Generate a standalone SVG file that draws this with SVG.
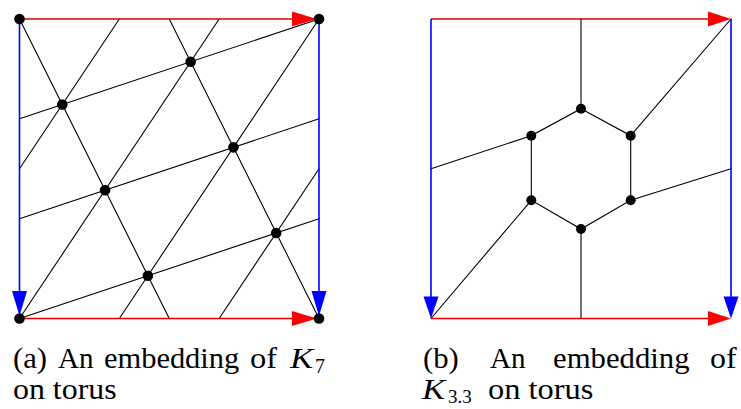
<svg xmlns="http://www.w3.org/2000/svg" width="741" height="409" viewBox="0 0 741 409">
<style>
.e{stroke:#000;stroke-width:1.1;fill:none;stroke-linecap:round}
.r{stroke:#e00000;stroke-width:1.6;fill:none}
.b{stroke:#0000ff;stroke-width:1.6;fill:none}
.ra{fill:#ff0000}
.ba{fill:#0000ff}
.d{fill:#000}
</style>
<rect width="741" height="409" fill="#fff"/>
<g id="panel-a">
<g id="edges-a">
<line class="e" x1="19.5" y1="118.83" x2="319" y2="19"/>
<line class="e" x1="19.5" y1="218.67" x2="319" y2="118.83"/>
<line class="e" x1="19.5" y1="318.5" x2="319" y2="218.67"/>
<line class="e" x1="19.5" y1="19" x2="169.25" y2="318.5"/>
<line class="e" x1="169.25" y1="19" x2="319" y2="318.5"/>
<line class="e" x1="19.5" y1="168.75" x2="119.33" y2="19"/>
<line class="e" x1="19.5" y1="318.5" x2="219.17" y2="19"/>
<line class="e" x1="119.33" y1="318.5" x2="319" y2="19"/>
<line class="e" x1="219.17" y1="318.5" x2="319" y2="168.75"/>
</g>
<g id="frame-a">
<line class="r" x1="19.5" y1="19" x2="296" y2="19"/>
<polygon class="ra" points="292,11.5 317,19 292,26.5"/>
<line class="r" x1="19.5" y1="318.5" x2="296" y2="318.5"/>
<polygon class="ra" points="292,311 317,318.5 292,326"/>
<line class="b" x1="19.5" y1="19" x2="19.5" y2="295"/>
<polygon class="ba" points="12,291 19.5,316 27,291"/>
<line class="b" x1="319" y1="19" x2="319" y2="295"/>
<polygon class="ba" points="311.5,291 319,316 326.5,291"/>
</g>
<g id="vertices-a">
<circle class="d" cx="19.5" cy="19" r="5.3"/>
<circle class="d" cx="319" cy="19" r="5.3"/>
<circle class="d" cx="19.5" cy="318.5" r="5.3"/>
<circle class="d" cx="319" cy="318.5" r="5.3"/>
<circle class="d" cx="62.29" cy="104.57" r="5.3"/>
<circle class="d" cx="105.07" cy="190.14" r="5.3"/>
<circle class="d" cx="147.86" cy="275.71" r="5.3"/>
<circle class="d" cx="190.64" cy="61.79" r="5.3"/>
<circle class="d" cx="233.43" cy="147.36" r="5.3"/>
<circle class="d" cx="276.21" cy="232.93" r="5.3"/>
</g>
<g id="caption-a" font-family="Liberation Serif, serif" font-size="29" fill="#000">
<text transform="translate(13 368) scale(1.06 1)">(a)</text>
<text transform="translate(58 368) scale(1.0 1)">An</text>
<text transform="translate(104 368) scale(1.05 1)">embedding</text>
<text transform="translate(250 368) scale(1.12 1)">of</text>
<text transform="translate(290 368) scale(1.2 1)" font-style="italic">K</text>
<text transform="translate(315 373)" font-size="20">7</text>
<text transform="translate(13 399) scale(1.1 1)">on torus</text>
</g>
</g>
<g id="panel-b">
<g id="edges-b">
<polygon class="e" points="581,108.7 630.7,135.7 630.7,200.3 581,229 531.3,200.3 531.3,135.7"/>
<line class="e" x1="581" y1="108.7" x2="581" y2="19"/>
<line class="e" x1="581" y1="229" x2="581" y2="318.5"/>
<line class="e" x1="630.7" y1="135.7" x2="731" y2="19"/>
<line class="e" x1="531.3" y1="200.3" x2="431" y2="318.5"/>
<line class="e" x1="531.3" y1="135.7" x2="431" y2="168.75"/>
<line class="e" x1="630.7" y1="200.3" x2="731" y2="168.75"/>
</g>
<g id="frame-b">
<line class="r" x1="431" y1="19" x2="712" y2="19"/>
<polygon class="ra" points="708,11.5 731,19 708,26.5"/>
<line class="r" x1="431" y1="318.5" x2="712" y2="318.5"/>
<polygon class="ra" points="708,311 731,318.5 708,326"/>
<line class="b" x1="431" y1="19" x2="431" y2="300"/>
<polygon class="ba" points="423.5,296.5 431,318.5 438.5,296.5"/>
<line class="b" x1="731" y1="19" x2="731" y2="300"/>
<polygon class="ba" points="723.5,296.5 731,318.5 738.5,296.5"/>
</g>
<g id="vertices-b">
<circle class="d" cx="581" cy="108.7" r="5"/>
<circle class="d" cx="630.7" cy="135.7" r="5"/>
<circle class="d" cx="630.7" cy="200.3" r="5"/>
<circle class="d" cx="581" cy="229" r="5"/>
<circle class="d" cx="531.3" cy="200.3" r="5"/>
<circle class="d" cx="531.3" cy="135.7" r="5"/>
</g>
<g id="caption-b" font-family="Liberation Serif, serif" font-size="29" fill="#000">
<text transform="translate(423 368) scale(1.06 1)">(b)</text>
<text transform="translate(490 368) scale(1.0 1)">An</text>
<text transform="translate(553 368) scale(1.06 1)">embedding</text>
<text transform="translate(710 368) scale(1.1 1)">of</text>
<text transform="translate(422 399) scale(1.2 1)" font-style="italic">K</text>
<text transform="translate(448 403)" font-size="19">3.3</text>
<text transform="translate(488 399) scale(1.12 1)">on torus</text>
</g>
</g>
</svg>
